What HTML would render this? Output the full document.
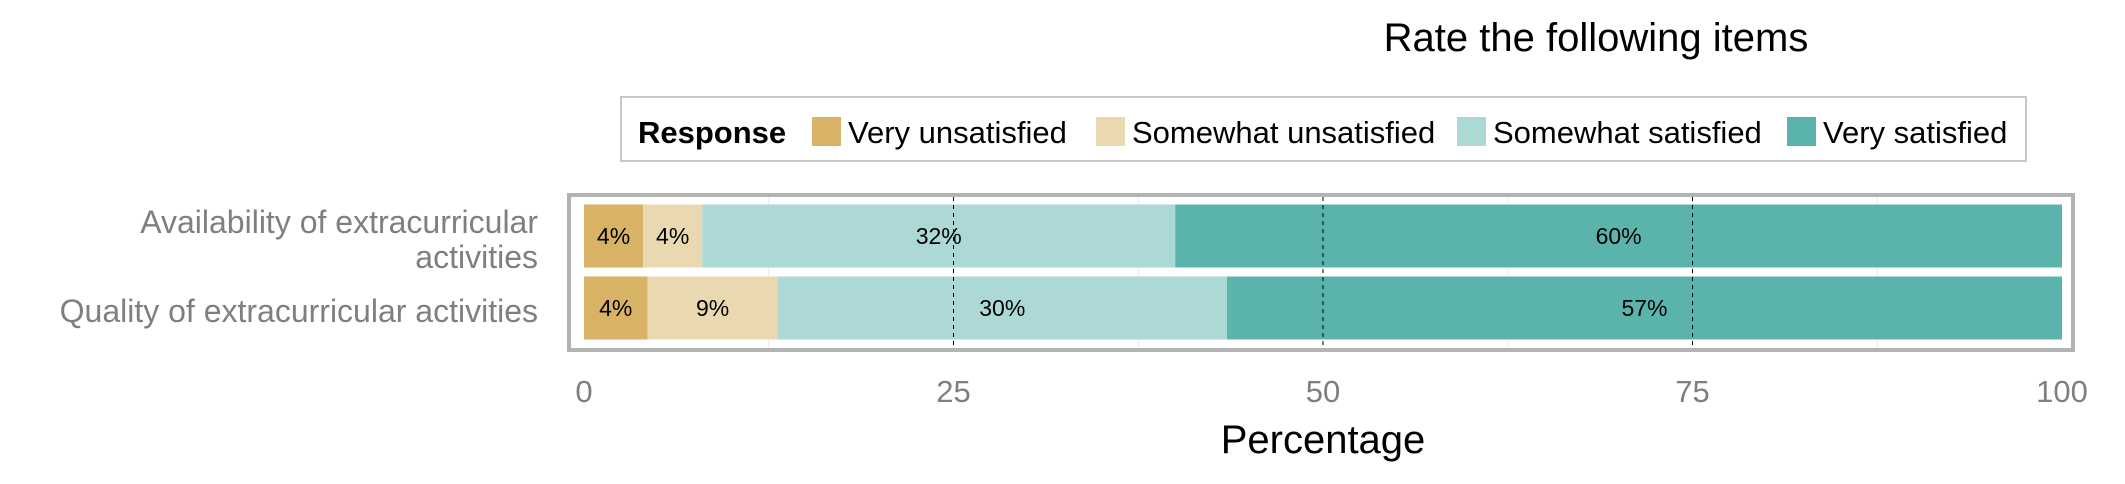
<!DOCTYPE html>
<html><head><meta charset="utf-8"><style>body{margin:0;background:#fff}svg{display:block}</style></head>
<body>
<svg id="chart" width="2125" height="484" xmlns="http://www.w3.org/2000/svg" font-family="Liberation Sans, sans-serif">
<text x="1596" y="51" font-size="40" text-anchor="middle">Rate the following items</text>
<g id="legend"><rect x="621" y="97" width="1405" height="64" fill="#fff" stroke="#c8c8c8" stroke-width="2"/>
<text x="638" y="143" font-size="31" font-weight="bold">Response</text></g>
<g id="plot"></g>
</svg>
<script>
const categories = ["Availability of extracurricular activities", "Quality of extracurricular activities"];
const responses = ["Very unsatisfied", "Somewhat unsatisfied", "Somewhat satisfied", "Very satisfied"];
const veryUnsatisfied = [4, 4.3];
const somewhatUnsatisfied = [4, 8.8];
const somewhatSatisfied = [32, 30.4];
const verySatisfied = [60, 56.5];
const valueLabels = [["4%","4%","32%","60%"],["4%","9%","30%","57%"]];
const xTicks = [0, 25, 50, 75, 100];
const colors = ["#d8b365", "#ead8b1", "#acd9d6", "#5ab4ac"];
const series = [veryUnsatisfied, somewhatUnsatisfied, somewhatSatisfied, verySatisfied];
const NS = "http://www.w3.org/2000/svg";
const x0 = 584, x1 = 2062;
const xs = v => x0 + (x1 - x0) * v / 100;
const rowCenter = [236, 308], barH = 63;
const plot = document.getElementById('plot');
function mk(tag, attrs, parent) { const e = document.createElementNS(NS, tag); for (const k in attrs) e.setAttribute(k, attrs[k]); (parent || plot).appendChild(e); return e; }
const panel = mk('rect', {x:569, y:195, width:1504, height:155, fill:'#fff', stroke:'#b3b3b3', 'stroke-width':4});


for (let v = 12.5; v < 100; v += 25) { const g = mk('line', {x1:xs(v), x2:xs(v), y1:197, y2:348, stroke:'#ebebeb', 'stroke-width':1});   }
categories.forEach((c, i) => {
  let cum = 0;
  series.forEach((s, j) => {
    const v = s[i];
    const r = mk('rect', {x:xs(cum), y:rowCenter[i]-barH/2, width:xs(cum+v)-xs(cum), height:barH, fill:colors[j]});
    
    
    const t = mk('text', {x:xs(cum+v/2), y:rowCenter[i]+8, 'font-size':23, 'text-anchor':'middle', fill:'#000'});
    t.textContent = valueLabels[i][j];
    
    
    cum += v;
  });
});
xTicks.forEach(v => {
  if (v > 0 && v < 100) { const l = mk('line', {x1:xs(v), x2:xs(v), y1:197, y2:348, stroke:'#000', 'stroke-width':1, 'stroke-dasharray':'4,4'});   }
  const t = mk('text', {x:xs(v), y:402, 'font-size':31, 'text-anchor':'middle', fill:'#7f7f7f'});
  t.textContent = v;
  
  
});
const xt = mk('text', {x:xs(50), y:453, 'font-size':40, 'text-anchor':'middle', fill:'#000'});
xt.textContent = 'Percentage';


const yl1 = mk('text', {x:538, y:233, 'font-size':32, 'text-anchor':'end', fill:'#7f7f7f'});
yl1.innerHTML = '<tspan x="538">Availability of extracurricular</tspan><tspan x="538" dy="35">activities</tspan>';


const yl2 = mk('text', {x:538, y:322, 'font-size':32, 'text-anchor':'end', fill:'#7f7f7f'});
yl2.textContent = categories[1];


const leg = document.getElementById('legend');
const swX = [812, 1096, 1457, 1787];
responses.forEach((r, j) => {
  const sw = mk('rect', {x:swX[j], y:117, width:29, height:29, fill:colors[j]}, leg);
  
  
  const t = mk('text', {x:swX[j]+36, y:143, 'font-size':31, fill:'#000'}, leg);
  t.textContent = r;
  
  
});
</script>
</body></html>
